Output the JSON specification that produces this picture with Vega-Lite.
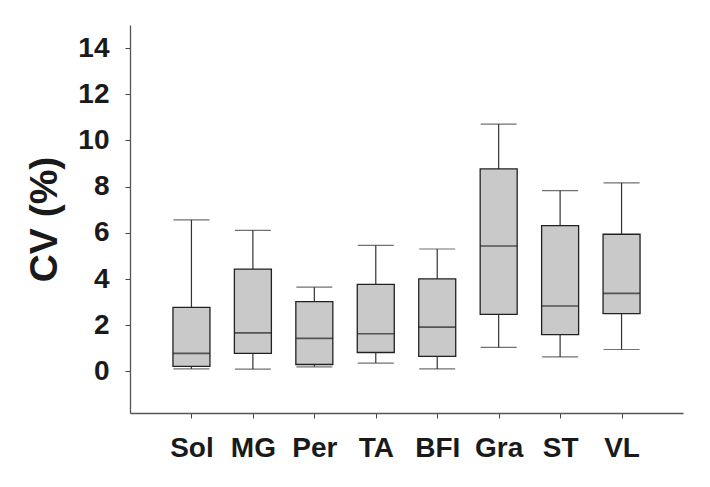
{
  "$schema": "https://vega.github.io/schema/vega-lite/v6.json",
  "autosize": "none",
  "width": 553,
  "height": 388,
  "padding": {"left": 130, "top": 25, "right": 27, "bottom": 74},
  "background": "white",
  "config": {
    "view": {"stroke": null},
    "font": "Liberation Sans"
  },
  "data": {
    "values": [
      {"group": "Sol", "lower": 0.11, "q1": 0.22, "median": 0.78, "q3": 2.77, "upper": 6.56},
      {"group": "MG", "lower": 0.10, "q1": 0.78, "median": 1.67, "q3": 4.43, "upper": 6.11},
      {"group": "Per", "lower": 0.20, "q1": 0.30, "median": 1.43, "q3": 3.02, "upper": 3.65},
      {"group": "TA", "lower": 0.36, "q1": 0.82, "median": 1.63, "q3": 3.77, "upper": 5.46},
      {"group": "BFI", "lower": 0.11, "q1": 0.65, "median": 1.92, "q3": 4.01, "upper": 5.30},
      {"group": "Gra", "lower": 1.04, "q1": 2.47, "median": 5.43, "q3": 8.77, "upper": 10.71},
      {"group": "ST", "lower": 0.63, "q1": 1.59, "median": 2.83, "q3": 6.31, "upper": 7.83},
      {"group": "VL", "lower": 0.95, "q1": 2.50, "median": 3.38, "q3": 5.94, "upper": 8.16}
    ]
  },
  "encoding": {
    "x": {
      "field": "group",
      "type": "nominal",
      "sort": null,
      "scale": {"type": "point", "padding": 1},
      "axis": {
        "title": null,
        "labelAngle": 0,
        "labelFont": "Liberation Sans",
        "labelFontWeight": "bold",
        "labelFontSize": 28,
        "labelColor": "#1a1a1a",
        "labelPadding": 16,
        "tickSize": 5,
        "tickColor": "#444",
        "domainColor": "#555",
        "domainWidth": 1.3,
        "grid": false
      }
    }
  },
  "layer": [
    {
      "mark": {"type": "rule", "color": "#333", "strokeWidth": 1.2},
      "encoding": {
        "y": {
          "field": "lower",
          "type": "quantitative",
          "scale": {"domain": [-1.8, 15], "nice": false, "zero": false},
          "axis": {
            "title": "CV (%)",
            "titleFont": "Liberation Sans",
            "titleFontWeight": "bold",
            "titleFontSize": 39,
            "titleColor": "#1a1a1a",
            "titlePadding": 13,
            "values": [0, 2, 4, 6, 8, 10, 12, 14],
            "labelFont": "Liberation Sans",
            "labelFontWeight": "bold",
            "labelFontSize": 28,
            "labelColor": "#1a1a1a",
            "labelPadding": 16,
            "tickSize": 5,
            "tickColor": "#444",
            "domainColor": "#555",
            "domainWidth": 1.3,
            "grid": false
          }
        },
        "y2": {"field": "upper"}
      }
    },
    {
      "mark": {"type": "bar", "size": 37, "fill": "#c9c9c9", "stroke": "#222", "strokeWidth": 1.3},
      "encoding": {
        "y": {"field": "q1", "type": "quantitative"},
        "y2": {"field": "q3"}
      }
    },
    {
      "mark": {"type": "tick", "size": 37, "thickness": 1.6, "color": "#222"},
      "encoding": {"y": {"field": "median", "type": "quantitative"}}
    },
    {
      "mark": {"type": "tick", "size": 36, "thickness": 1.2, "color": "#333"},
      "encoding": {"y": {"field": "upper", "type": "quantitative"}}
    },
    {
      "mark": {"type": "tick", "size": 36, "thickness": 1.2, "color": "#333"},
      "encoding": {"y": {"field": "lower", "type": "quantitative"}}
    }
  ]
}
